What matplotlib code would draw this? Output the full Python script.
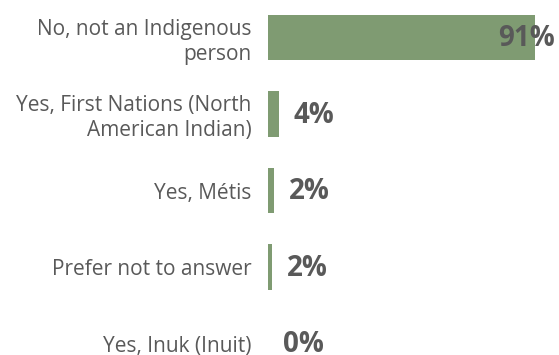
import matplotlib.pyplot as plt

categories = [
    "No, not an Indigenous\nperson",
    "Yes, First Nations (North\nAmerican Indian)",
    "Yes, Métis",
    "Prefer not to answer",
    "Yes, Inuk (Inuit)",
]
values = [91, 3.6, 2.0, 1.4, 0]
value_labels = ["91%", "4%", "2%", "2%", "0%"]

bar_color = "#7F9B72"
text_color = "#595959"

plt.rcParams["font.family"] = ["Open Sans", "DejaVu Sans"]

fig = plt.figure(figsize=(5.59, 3.55), dpi=100)
ax = fig.add_axes([268 / 559, 0, 1 - 268 / 559, 1])

pos = list(range(len(categories)))
ax.barh(pos, values, height=0.59, color=bar_color)

ax.set_xlim(0, 99.2)
ax.set_ylim(4.15, -0.49)
ax.set_yticks(pos)
ax.set_yticklabels(categories, fontsize=15, color=text_color, ha="right",
                   linespacing=1.25)
ax.tick_params(axis="y", length=0, pad=12)
ax.set_xticks([])
for s in ax.spines.values():
    s.set_visible(False)

# data labels; the long bar's label is pulled back so it stays on the page
for i, (v, lab) in enumerate(zip(values, value_labels)):
    if v > 80:
        ax.annotate(lab, (v, i), xytext=(14, -1), textcoords="offset points",
                    ha="right", va="center", fontsize=20, fontweight="bold",
                    color=text_color)
    else:
        ax.annotate(lab, (v, i), xytext=(11, -1), textcoords="offset points",
                    ha="left", va="center", fontsize=20, fontweight="bold",
                    color=text_color, annotation_clip=False)

fig.savefig("out.png", dpi=100)
